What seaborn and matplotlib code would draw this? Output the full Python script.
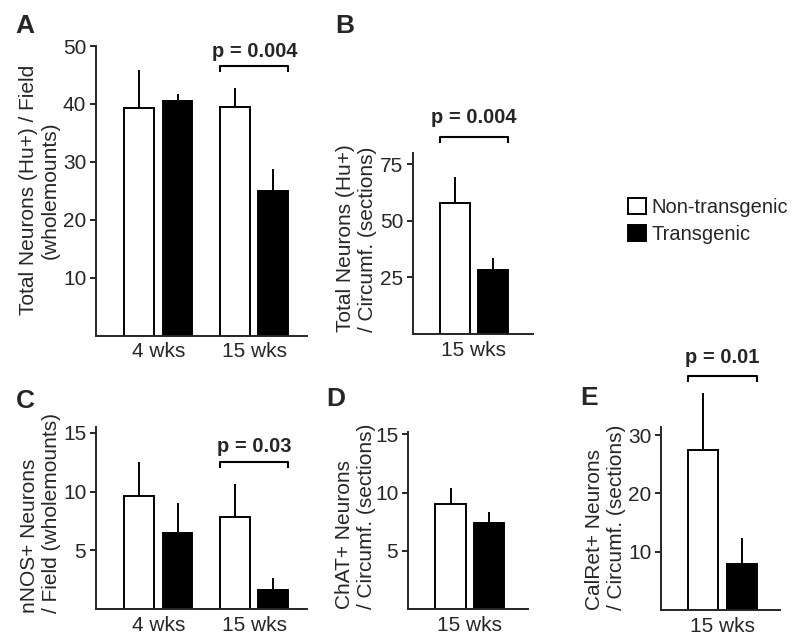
import numpy as np
import pandas as pd
import matplotlib
matplotlib.use("Agg")
import matplotlib.pyplot as plt
from matplotlib.patches import Patch
import seaborn as sns

groups = ["Non-transgenic", "Transgenic"]
colors = {"Non-transgenic": "white", "Transgenic": "black"}

# A: total Hu+ neurons / field (wholemounts)
a_ages = ["4 wks", "15 wks"]
a_non = [39.3, 39.5]
a_non_err = [6.6, 3.3]
a_tg = [40.5, 25.0]
a_tg_err = [1.2, 3.8]

# B: total Hu+ neurons / circumference (sections)
b_ages = ["15 wks"]
b_non = [58.0]
b_non_err = [11.2]
b_tg = [28.5]
b_tg_err = [5.3]

# C: nNOS+ neurons / field (wholemounts)
c_ages = ["4 wks", "15 wks"]
c_non = [9.6, 7.8]
c_non_err = [2.95, 2.85]
c_tg = [6.45, 1.65]
c_tg_err = [2.55, 0.95]

# D: ChAT+ neurons / circumference (sections)
d_ages = ["15 wks"]
d_non = [9.0]
d_non_err = [1.37]
d_tg = [7.38]
d_tg_err = [0.97]

# E: CalRet+ neurons / circumference (sections)
e_ages = ["15 wks"]
e_non = [27.4]
e_non_err = [9.9]
e_tg = [7.9]
e_tg_err = [4.5]

sns.set_style("ticks")
plt.rcParams["font.family"] = ["Liberation Sans", "DejaVu Sans"]
plt.rcParams["axes.linewidth"] = 1.4

FS = 15
W, H = 800, 644
fig = plt.figure(figsize=(W / 100, H / 100), dpi=100)


def add_ax(left, top, right, bottom):
    return fig.add_axes([left / W, 1 - bottom / H, (right - left) / W, (bottom - top) / H])


def draw_panel(ax, ages, non, non_err, tg, tg_err, ylim, yticks, xlim,
               ylabel, label_x, label_y, align="left"):
    n = len(ages)
    df = pd.DataFrame({
        "age": ages * 2,
        "group": [groups[0]] * n + [groups[1]] * n,
        "value": non + tg,
    })
    sns.barplot(data=df, x="age", y="value", hue="group", order=ages,
                hue_order=groups, palette=colors, saturation=1,
                edgecolor="black", linewidth=1.4, width=0.8, gap=0.22,
                errorbar=None, legend=False, ax=ax)
    # one-sided error bars (mean + SEM)
    for patch, v, e in zip(ax.patches, non + tg, non_err + tg_err):
        xc = patch.get_x() + patch.get_width() / 2
        ax.vlines(xc, v, v + e, color="black", lw=1.4, zorder=3, clip_on=False)
    ax.set_ylim(*ylim)
    ax.set_xlim(*xlim)
    ax.set_yticks(yticks)
    ax.set_xlabel("")
    ax.set_ylabel(ylabel, fontsize=FS, linespacing=1.2, multialignment=align)
    ax.yaxis.set_label_coords(label_x / W, 1 - label_y / H, transform=fig.transFigure)
    ax.tick_params(axis="y", length=4, width=1.4, labelsize=FS, pad=3)
    ax.tick_params(axis="x", length=0, labelsize=FS, pad=5)
    sns.despine(ax=ax)


def bracket(ax, i, n, text, y, text_y, leg_px=6):
    left = ax.patches[i]
    right = ax.patches[n + i]
    x0 = left.get_x()
    x1 = right.get_x() + right.get_width()
    px_per_unit = ax.transData.transform((0, 1))[1] - ax.transData.transform((0, 0))[1]
    leg = leg_px / px_per_unit
    ax.plot([x0, x0, x1, x1], [y - leg, y, y, y - leg], color="black",
            lw=1.5, clip_on=False, solid_capstyle="butt")
    ax.text((x0 + x1) / 2, text_y, text, ha="center", va="baseline",
            fontsize=14.5, fontweight="bold")


# panel A
ax_a = add_ax(96, 46, 307, 335.5)
draw_panel(ax_a, a_ages, a_non, a_non_err, a_tg, a_tg_err, (0, 50),
           [10, 20, 30, 40, 50], (-0.65, 1.55),
           "Total Neurons (Hu+) / Field\n(wholemounts)", 60, 190, align="center")
bracket(ax_a, 1, 2, "p = 0.004", 46.6, 48.1)

# panel B
ax_b = add_ax(413, 153, 533, 334)
draw_panel(ax_b, b_ages, b_non, b_non_err, b_tg, b_tg_err, (0, 80),
           [25, 50, 75], (-0.63, 0.61),
           "Total Neurons (Hu+)\n/ Circumf. (sections)", 377, 238)
bracket(ax_b, 0, 1, "p = 0.004", 87, 93.1)

# panel C
ax_c = add_ax(96, 427, 307, 609)
draw_panel(ax_c, c_ages, c_non, c_non_err, c_tg, c_tg_err, (0, 15.5),
           [5, 10, 15], (-0.65, 1.55),
           "nNOS+ Neurons\n/ Field (wholemounts)", 61, 513)
bracket(ax_c, 1, 2, "p = 0.03", 12.5, 13.4)

# panel D
ax_d = add_ax(408, 432, 528, 609)
draw_panel(ax_d, d_ages, d_non, d_non_err, d_tg, d_tg_err, (0, 15.2),
           [5, 10, 15], (-0.64, 0.6),
           "ChAT+ Neurons\n/ Circumf. (sections)", 376, 516)

# panel E
ax_e = add_ax(661, 427, 780, 610)
draw_panel(ax_e, e_ages, e_non, e_non_err, e_tg, e_tg_err, (0, 31.4),
           [10, 20, 30], (-0.64, 0.6),
           "CalRet+ Neurons\n/ Circumf. (sections)", 626, 517)
bracket(ax_e, 0, 1, "p = 0.01", 40.1, 42.3)

# panel letters
for letter, x, y in [("A", 15, 33), ("B", 335, 33), ("C", 16, 408),
                     ("D", 326, 406), ("E", 580, 405)]:
    fig.text(x / W, 1 - y / H, letter, fontsize=19, fontweight="bold",
             ha="left", va="baseline")

handles = [Patch(facecolor="white", edgecolor="black", linewidth=1.4),
           Patch(facecolor="black", edgecolor="black", linewidth=1.4)]
fig.legend(handles, groups, loc="upper left", bbox_to_anchor=(628 / W, 1 - 198 / H),
           frameon=False, fontsize=14.5, handlelength=0.9, handleheight=0.8,
           handletextpad=0.25, labelspacing=0.4, borderpad=0, borderaxespad=0)

fig.savefig("out.png", dpi=100)
